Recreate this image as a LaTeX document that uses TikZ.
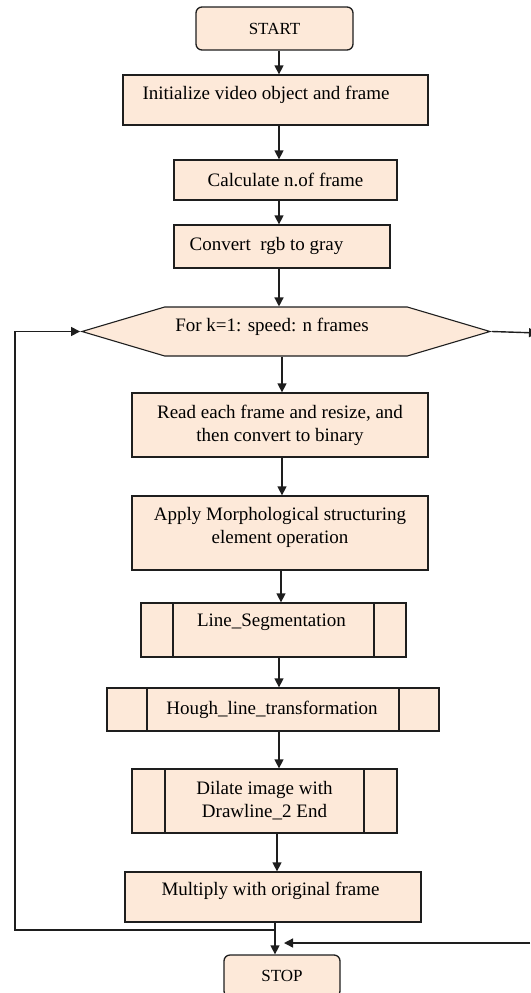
\documentclass[tikz,border=0pt]{standalone}
\usepackage{fontspec}
\setmainfont{Liberation Serif}
\usepackage{tikz}
\usetikzlibrary{arrows.meta,shapes.symbols}
\usepackage{xcolor}
\definecolor{Peach}{HTML}{FDE9D9}
\definecolor{EdgeGray}{HTML}{1E1E1E}

\begin{document}
\begin{tikzpicture}[x=1pt,y=-1pt,>={Triangle[length=9pt,width=9pt]},
  every node/.style={font=\fontsize{19}{23}\selectfont},
  box/.style={rectangle,draw=EdgeGray,line width=1.3pt,fill=Peach,inner sep=2pt,align=center},
  terminal/.style={box,rounded corners=6pt,font=\fontsize{17}{21}\selectfont},
  lift/.style={text height=13.5pt,text depth=4pt+2*#1},
  subproc/.style={box,path picture={
    \draw[line width=1.3pt,EdgeGray]
      ([xshift=#1]path picture bounding box.north west) -- ([xshift=#1]path picture bounding box.south west)
      ([xshift=-#1]path picture bounding box.north east) -- ([xshift=-#1]path picture bounding box.south east);}},
  loophex/.style={signal,signal to=west and east,signal pointer angle=33,draw=EdgeGray,
    line width=1.1pt,fill=Peach,inner sep=2pt},
  flow/.style={->,line width=1.4pt,EdgeGray}]
  \useasboundingbox (0,0) rectangle (530,993);
  \node[terminal,minimum width=157,minimum height=43] (start) at (274.5,28.5) {START};
  \node[box,lift=5pt,minimum width=305,minimum height=50] (init) at (275.5,100) {Initialize video object and frame\hspace*{19pt}};
  \node[box,minimum width=223,minimum height=40] (calc) at (285.5,180) {Calculate n.of frame};
  \node[box,lift=1pt,minimum width=216,minimum height=43] (conv) at (282,246.5) {Convert\ \ rgb to gray\hspace*{31pt}};
  \node[loophex,lift=5pt,minimum width=408,minimum height=49] (loop) at (286,331.5) {For k=1: speed: n frames\hspace*{28pt}};
  \node[box,minimum width=296,minimum height=64] (read) at (280,425) {Read each frame and resize, and\\then convert to binary};
  \node[box,text depth=16pt,minimum width=296,minimum height=74] (apply) at (280,533) {Apply Morphological structuring\\element operation};
  \node[subproc=32,lift=8pt,minimum width=265,minimum height=54] (lineseg) at (273.5,630) {Line\_Segmentation\hspace*{4pt}};
  \node[subproc=40,minimum width=332,minimum height=43] (hough) at (273,709.5) {Hough\_line\_transformation\hspace*{2pt}};
  \node[subproc=33,minimum width=265,minimum height=64] (dilate) at (264.5,801) {Dilate image with\\Drawline\_2 End};
  \node[box,lift=6pt,minimum width=296,minimum height=50] (mult) at (273,897) {Multiply with original frame\hspace*{5pt}};
  \node[terminal,minimum width=116,minimum height=42] (stop) at (282,976) {STOP};
  % main flow, all on one axis
  \coordinate (axis) at (279,0);
  \draw[flow] (start.south -| axis) -- (init.north -| axis);
  \draw[flow] (init.south -| axis) -- (calc.north -| axis);
  \draw[flow] (calc.south -| axis) -- (conv.north -| axis);
  \draw[flow] (conv.south -| axis) -- (loop.north -| axis);
  \draw[flow] ([xshift=3pt]loop.south -| axis) -- ([xshift=3pt]read.north -| axis);
  \draw[flow] ([xshift=3pt]read.south -| axis) -- ([xshift=3pt]apply.north -| axis);
  \draw[flow] ([xshift=2pt]apply.south -| axis) -- ([xshift=2pt]lineseg.north -| axis);
  \draw[flow] (lineseg.south -| axis) -- (hough.north -| axis);
  \draw[flow] (hough.south -| axis) -- (dilate.north -| axis);
  \draw[flow] ([xshift=-2pt]dilate.south -| axis) -- ([xshift=-2pt]mult.north -| axis);
  \draw[flow] ([xshift=-4pt]mult.south -| axis) -- ([xshift=-4pt]stop.north -| axis);
  % loop back and exit
  \coordinate (loopB) at (15,930);
  \draw[flow] ([xshift=-4pt]loopB -| axis) -- (loopB) |- (loop.west);
  \coordinate (exitR) at (538,333);
  \draw[flow] (loop.east) -- (exitR);
  \coordinate (backR) at (530,943);
  \draw[flow,shorten >=9pt] (backR) -- ([xshift=-4pt]backR -| axis);
\end{tikzpicture}
\end{document}
